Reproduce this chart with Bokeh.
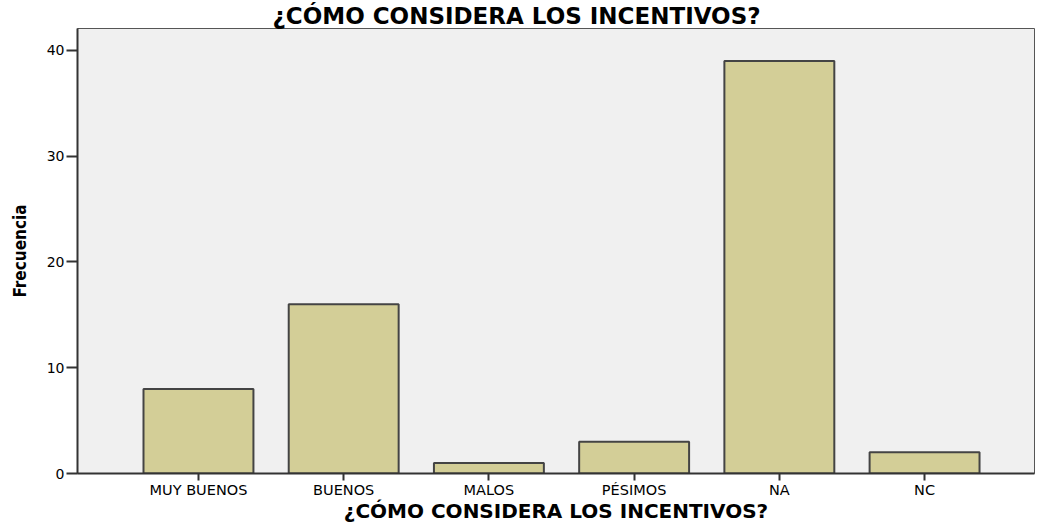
from bokeh.plotting import figure
from bokeh.models import Range1d, FixedTicker, ColumnDataSource
from bokeh.embed import file_html
from bokeh.resources import INLINE

categories = ["MUY BUENOS", "BUENOS", "MALOS", "PÉSIMOS", "NA", "NC"]
frequencies = [8, 16, 1, 3, 39, 2]
y_ticks = [0, 10, 20, 30, 40]

xs = list(range(len(categories)))
src = ColumnDataSource(dict(x=xs, top=frequencies))

p = figure(width=1046, height=525, output_backend="svg", toolbar_location=None,
           x_range=Range1d(-0.833, len(categories) - 1 + 0.757),
           y_range=Range1d(0, 42.08),
           min_border_left=77, min_border_right=12, min_border_top=28, min_border_bottom=51)
p.background_fill_color = "#f0f0f0"
p.border_fill_color = "white"
p.outline_line_color = "#555555"
p.outline_line_width = 1
p.xgrid.visible = False
p.ygrid.visible = False

p.vbar(x="x", top="top", width=0.757, bottom=0, source=src,
       fill_color="#d3ce97", line_color="#444444", line_width=2)

p.title.text = "¿CÓMO CONSIDERA LOS INCENTIVOS?"
p.title.align = "left"
p.title.offset = 195
p.title.text_font = "DejaVu Sans"
p.title.text_font_size = "23px"
p.title.text_font_style = "bold"
p.title.text_color = "black"
p.title.standoff = 0

p.xaxis.ticker = FixedTicker(ticks=xs)
p.xaxis.major_label_overrides = {i: c for i, c in enumerate(categories)}
p.xaxis.axis_label = "¿CÓMO CONSIDERA LOS INCENTIVOS?"
p.xaxis.axis_label_text_font = "DejaVu Sans"
p.xaxis.axis_label_text_font_size = "20px"
p.xaxis.axis_label_text_font_style = "bold"
p.xaxis.axis_label_standoff = -2
p.xaxis.major_tick_out = 7
p.xaxis.major_tick_in = 0
p.xaxis.minor_tick_line_color = None
p.xaxis.major_label_standoff = 1

p.yaxis.ticker = FixedTicker(ticks=y_ticks)
p.yaxis.axis_label = "Frecuencia"
p.yaxis.axis_label_text_font = "DejaVu Sans Condensed"
p.yaxis.axis_label_text_font_size = "17px"
p.yaxis.axis_label_text_font_style = "bold"
p.yaxis.axis_label_standoff = 14
p.yaxis.major_tick_out = 11
p.yaxis.major_tick_in = 0
p.yaxis.minor_tick_line_color = None
p.yaxis.major_label_standoff = 2

for ax in (p.xaxis, p.yaxis):
    ax.axis_line_color = "#333333"
    ax.axis_line_width = 2
    ax.major_tick_line_color = "#333333"
    ax.major_tick_line_width = 2
    ax.major_label_text_font = "DejaVu Sans"
    ax.major_label_text_color = "black"
    ax.axis_label_text_color = "black"
p.xaxis.major_label_text_font_size = "14.5px"
p.yaxis.major_label_text_font_size = "14px"

open("out.html", "w").write(file_html(p, INLINE))
